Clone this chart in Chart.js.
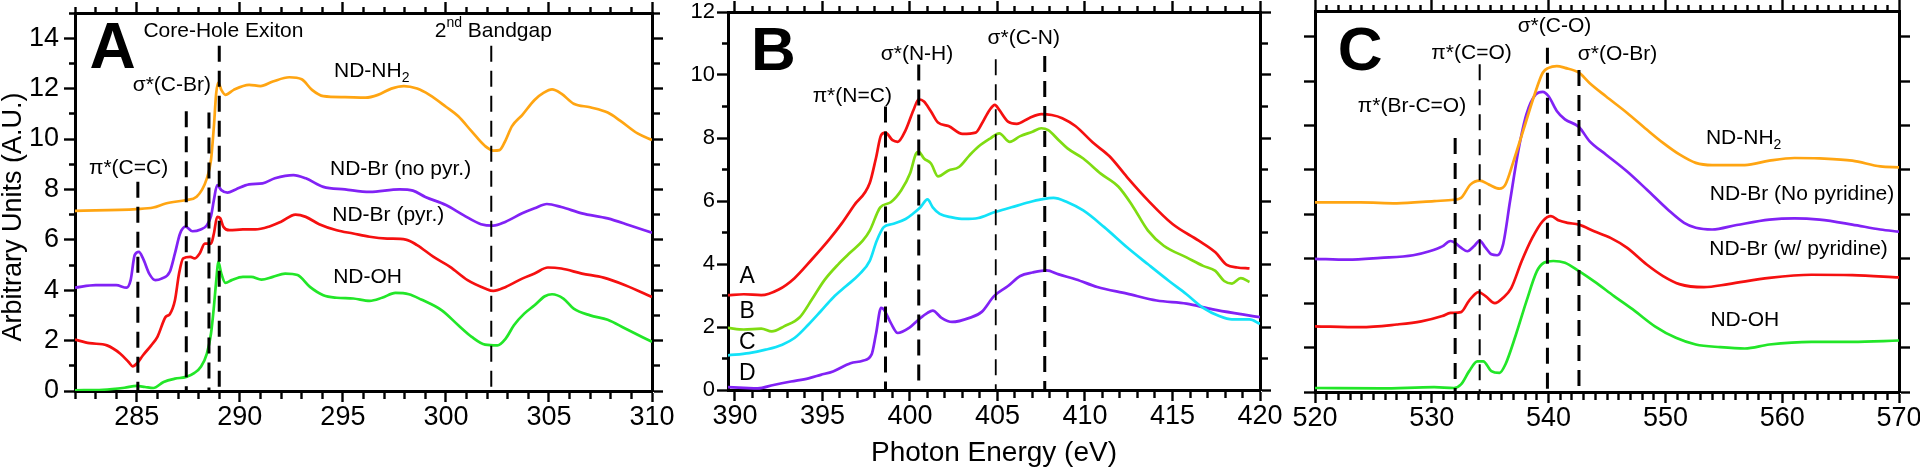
<!DOCTYPE html>
<html lang="en">
<head>
<meta charset="UTF-8">
<title>NEXAFS spectra of functionalised nanodiamond</title>
<script src="https://cdn.jsdelivr.net/npm/chart.js@4.4.1/dist/chart.umd.min.js"></script>
<style>
body { margin: 0; background: #fff; width: 1920px; height: 467px; overflow: hidden; position: relative; }
.panel { position: absolute; top: 0; height: 467px; }
</style>
</head>
<body>
<div class="panel" style="left:0px"><canvas id="chartA" width="692" height="467"></canvas></div>
<div class="panel" style="left:668px"><canvas id="chartB" width="622" height="467"></canvas></div>
<div class="panel" style="left:1275px"><canvas id="chartC" width="645" height="467"></canvas></div>
<script>
const FONT = '"Liberation Sans", Arial, Helvetica, sans-serif';
Chart.defaults.font.family = FONT;
Chart.defaults.color = '#000';

// ---- Panel A: C K-edge ----
const aNH2 = [[282,7.15],[285,7.22],[285.8,7.28],[286.4,7.44],[287.4,7.58],[287.9,7.71],[288.4,8.44],[288.6,9.17],[288.74,10.5],[288.85,11.8],[288.95,12.24],[289.1,11.95],[289.3,11.75],[289.7,11.95],[290.45,12.15],[291,12.1],[291.6,12.28],[292.4,12.45],[293,12.37],[293.5,11.95],[294.05,11.7],[295.1,11.66],[296.1,11.64],[296.7,11.75],[297.35,12],[297.96,12.1],[298.6,12],[299.2,11.75],[300,11.28],[300.6,10.9],[301.25,10.3],[301.9,9.72],[302.3,9.54],[302.6,9.56],[302.9,9.96],[303.2,10.5],[303.7,10.95],[304.3,11.55],[304.75,11.84],[305.15,11.97],[305.6,11.8],[306.2,11.4],[307,11.26],[307.85,11.05],[308.45,10.73],[309.3,10.22],[310,9.96]];
const aBrNoPyr = [[282,4.1],[283,4.2],[284,4.2],[284.5,4.1],[284.7,4.4],[284.9,5.4],[285.1,5.52],[285.3,5.26],[285.6,4.66],[285.9,4.4],[286.2,4.46],[286.6,4.73],[286.85,5.46],[287.1,6.25],[287.37,6.52],[287.7,6.34],[288.1,6.41],[288.4,6.58],[288.6,6.94],[288.74,7.58],[288.9,8.17],[289.1,7.97],[289.4,7.87],[289.8,8],[290.45,8.2],[291.1,8.24],[291.7,8.44],[292.6,8.57],[293.2,8.44],[294.05,8.1],[295.1,8],[296.3,7.9],[297.75,8],[298.4,7.95],[299,7.7],[300,7.38],[300.85,6.98],[301.7,6.62],[302.3,6.56],[302.9,6.72],[303.7,7.05],[304.3,7.25],[304.9,7.42],[305.6,7.3],[306.6,7.05],[307.85,6.85],[308.9,6.58],[310,6.28]];
const aBrPyr = [[282,2.04],[282.7,1.9],[283.55,1.81],[284.2,1.48],[284.6,1.15],[284.8,0.98],[285,1.09],[285.3,1.42],[285.7,1.81],[286,2.15],[286.4,2.94],[286.6,3.05],[286.85,3.6],[287.05,4.66],[287.25,5.26],[287.6,5.32],[287.8,5.26],[288.05,5.46],[288.3,5.85],[288.6,5.85],[288.74,6.25],[288.9,6.91],[289.05,6.85],[289.2,6.52],[289.5,6.38],[290.15,6.41],[290.75,6.41],[291.4,6.52],[292,6.72],[292.7,7],[293.2,6.91],[293.85,6.62],[294.7,6.38],[295.5,6.25],[296.3,6.12],[297.15,6.05],[298.05,6.01],[298.6,5.79],[299.4,5.32],[300.2,4.93],[301.05,4.4],[301.9,4.07],[302.3,3.97],[302.9,4.13],[303.7,4.46],[304.3,4.66],[304.95,4.9],[305.6,4.86],[306.6,4.66],[307.65,4.5],[308.7,4.2],[310,3.73]];
const aOH = [[282,0.03],[283.35,0.05],[284.4,0.13],[285,0.2],[285.4,0.16],[285.8,0.12],[286.3,0.36],[286.85,0.49],[287.4,0.56],[287.8,0.72],[288.1,0.95],[288.4,1.48],[288.6,2.28],[288.74,3.34],[288.87,4.53],[288.95,5.13],[289.1,4.66],[289.3,4.29],[289.6,4.4],[290.15,4.53],[290.55,4.53],[291.05,4.42],[291.6,4.53],[292.2,4.66],[292.8,4.6],[293.4,4.13],[294.05,3.8],[294.7,3.7],[295.5,3.67],[296.3,3.58],[296.9,3.7],[297.55,3.89],[298.2,3.84],[298.8,3.63],[299.8,3.2],[300.6,2.61],[301.25,2.15],[301.9,1.84],[302.5,1.81],[302.9,2.08],[303.3,2.61],[303.8,3.07],[304.3,3.4],[304.8,3.76],[305.15,3.84],[305.7,3.67],[306.2,3.27],[307,3],[307.85,2.83],[308.7,2.48],[310,1.95]];
const aMarks = [{x:285.05,top:8.3,w:3},{x:287.4,top:11.1,w:3},{x:288.5,top:11.05,w:3},{x:289.0,top:13.7,w:3},{x:302.2,top:13.7,w:2}];
const aNotes = [
  {t:'A', x:283.83, y:13.53, size:64, bold:true},
  {t:'Core-Hole Exiton', x:289.2, y:14.26},
  {t:'2^{nd} Bandgap', x:302.3, y:14.26},
  {t:'σ*(C-Br)', x:286.7, y:12.15},
  {t:'π*(C=C)', x:284.6, y:8.83},
  {t:'ND-NH_{2}', x:296.4, y:12.7},
  {t:'ND-Br (no pyr.)', x:297.8, y:8.8},
  {t:'ND-Br (pyr.)', x:297.2, y:6.98},
  {t:'ND-OH', x:296.2, y:4.53}
];

// ---- Panel B: N K-edge ----
const bA = [[389.6,3.01],[390.5,3.04],[391.5,3.01],[392.5,3.19],[393.4,3.55],[394.4,4.15],[395.4,4.79],[396.1,5.29],[396.8,5.86],[397.7,6.57],[398.05,7.35],[398.35,8.09],[398.6,8.17],[399,7.93],[399.3,7.88],[399.75,8.25],[400.2,8.89],[400.5,9.23],[400.8,9.16],[401.2,8.84],[401.6,8.49],[402.2,8.38],[403,8.13],[403.75,8.17],[404.1,8.45],[404.55,8.89],[404.85,9.05],[405.1,8.89],[405.6,8.52],[406.1,8.45],[406.8,8.63],[407.5,8.76],[408.1,8.73],[408.7,8.63],[409.45,8.38],[410.5,7.83],[411.4,7.42],[412.4,6.76],[413.6,6.02],[415,5.27],[416.5,4.74],[417.45,4.37],[418.1,3.97],[418.7,3.89],[419.4,3.86]];
const bB = [[389.6,1.97],[390.5,1.92],[391.5,1.95],[392.1,1.86],[392.8,2.02],[393.7,2.31],[394.4,2.88],[395.1,3.48],[395.9,3.99],[396.6,4.37],[397.3,4.74],[397.7,5.06],[398.3,5.8],[398.9,5.96],[399.5,6.34],[400,6.87],[400.35,7.51],[400.5,7.56],[400.8,7.35],[401.2,7.19],[401.6,6.78],[402.2,6.97],[402.8,7.08],[403.4,7.45],[403.9,7.72],[404.6,7.99],[405.1,8.15],[405.7,7.88],[406.3,8.06],[407,8.2],[407.5,8.31],[407.9,8.25],[408.5,7.93],[409,7.67],[409.9,7.35],[410.9,6.87],[411.9,6.46],[412.7,5.86],[413.6,5.06],[414.5,4.58],[415.8,4.21],[416.75,3.94],[417.45,3.78],[417.95,3.46],[418.4,3.38],[418.9,3.55],[419.4,3.43]];
const bC = [[389.6,1.1],[390.8,1.17],[391.75,1.28],[392.7,1.44],[393.4,1.65],[394.2,2.08],[394.9,2.5],[395.6,2.93],[396.35,3.3],[397.1,3.67],[397.7,4.1],[398.1,4.74],[398.5,5.17],[399,5.27],[399.75,5.43],[400.2,5.61],[400.6,5.8],[401,6.05],[401.3,5.8],[401.7,5.59],[402.4,5.48],[403.1,5.43],[403.9,5.46],[404.8,5.64],[405.8,5.8],[406.8,5.96],[407.5,6.05],[408.2,6.1],[409,5.96],[409.9,5.7],[411.1,5.17],[412.4,4.53],[413.6,3.99],[414.8,3.46],[415.8,3.04],[416.75,2.61],[417.7,2.34],[418.4,2.24],[419.4,2.24],[420,2.1]];
const bD = [[389.6,0.09],[390.5,0.07],[391.3,0.05],[392.2,0.16],[393.2,0.27],[394.2,0.37],[394.9,0.48],[395.6,0.59],[396.6,0.85],[397.3,0.93],[397.8,1.12],[398.05,1.76],[398.35,2.61],[398.5,2.56],[398.9,2.13],[399.3,1.81],[399.95,1.97],[400.5,2.24],[401,2.45],[401.3,2.52],[401.8,2.29],[402.4,2.16],[403.4,2.29],[404.1,2.48],[404.8,2.98],[405.6,3.3],[406.3,3.62],[407,3.73],[407.8,3.8],[408.5,3.67],[409.5,3.51],[410.7,3.27],[412.4,3.06],[414.1,2.84],[415.8,2.74],[417.3,2.56],[419,2.4],[420,2.31]];
const bMarks = [{x:398.6,top:9.0,w:3},{x:400.5,top:10.33,w:3},{x:404.9,top:10.5,w:1.8},{x:407.7,top:10.6,w:3}];
const bNotes = [
  {t:'B', x:392.2, y:10.7, size:62, bold:true},
  {t:'σ*(N-H)', x:400.4, y:10.65},
  {t:'σ*(C-N)', x:406.5, y:11.18},
  {t:'π*(N=C)', x:396.7, y:9.32},
  {t:'A', x:390.7, y:3.59, size:23},
  {t:'B', x:390.7, y:2.5, size:23},
  {t:'C', x:390.7, y:1.49, size:23},
  {t:'D', x:390.7, y:0.53, size:23}
];

// ---- Panel C: O K-edge ----
const cNH2 = [[520,4.27],[523.9,4.27],[527,4.25],[530.2,4.3],[531.9,4.33],[532.5,4.37],[533.3,4.67],[534.1,4.76],[534.9,4.67],[535.8,4.58],[536.3,4.67],[537,5.2],[537.9,5.95],[538.8,6.7],[539.5,7.19],[540,7.3],[540.7,7.34],[541.4,7.3],[542.6,7.19],[543.5,6.96],[544.9,6.66],[546.7,6.29],[548.4,5.91],[549.8,5.61],[551.2,5.35],[552.6,5.16],[554,5.11],[556.8,5.11],[558.9,5.21],[561.05,5.27],[563.2,5.26],[566,5.21],[568.4,5.08],[570,5.06]];
const cBrNoPyr = [[520,3],[522.8,2.98],[525.6,3.02],[528.4,3.08],[529.8,3.17],[530.9,3.28],[531.6,3.4],[532,3.36],[532.5,3.25],[533.05,3.17],[533.6,3.28],[534.1,3.41],[534.6,3.25],[535.1,3.1],[535.6,3.08],[536.1,3.32],[536.7,4.3],[537.4,5.42],[538.1,6.25],[538.9,6.7],[539.5,6.76],[540,6.66],[540.7,6.33],[541.4,6.14],[542.6,5.97],[543.5,5.65],[544.9,5.35],[546.7,4.97],[548.4,4.56],[550.2,4.11],[551.6,3.81],[552.6,3.7],[554,3.66],[556.1,3.76],[558.9,3.88],[561.05,3.91],[563.2,3.88],[566,3.77],[568.4,3.66],[570,3.61]];
const cBrPyr = [[520,1.48],[523.9,1.46],[527,1.52],[529.1,1.59],[530.9,1.71],[531.6,1.78],[532.5,1.8],[533.2,2.06],[534,2.25],[534.6,2.16],[535.4,2],[536.1,2.12],[536.8,2.34],[537.7,2.95],[538.6,3.47],[539.5,3.85],[540.2,3.96],[540.9,3.86],[541.6,3.81],[542.6,3.77],[543.9,3.62],[545.3,3.47],[546.7,3.25],[548.4,2.87],[549.8,2.61],[551.2,2.43],[553.3,2.36],[555.4,2.43],[558.9,2.57],[562.5,2.64],[566,2.63],[570,2.58]];
const cOH = [[520,0.09],[525.6,0.08],[530.2,0.11],[531.9,0.09],[532.5,0.17],[533.2,0.47],[533.9,0.69],[534.4,0.69],[535.1,0.47],[535.8,0.43],[536.3,0.62],[537.2,1.29],[538.1,2.04],[539,2.72],[539.6,2.91],[540.4,2.95],[541.4,2.91],[542.6,2.72],[543.9,2.49],[545.6,2.16],[547.4,1.82],[549.1,1.48],[550.9,1.22],[552.6,1.07],[554.7,1.01],[556.8,0.98],[558.9,1.07],[562.5,1.13],[566,1.13],[570,1.16]];
const cMarks = [{x:532.0,top:5.72,w:3},{x:534.1,top:7.38,w:2},{x:539.9,top:7.75,w:3},{x:542.6,top:7.25,w:3}];
const cNotes = [
  {t:'C', x:523.86, y:7.64, size:62, bold:true},
  {t:'σ*(C-O)', x:540.5, y:8.24},
  {t:'π*(C=O)', x:533.4, y:7.64},
  {t:'σ*(O-Br)', x:545.9, y:7.6},
  {t:'π*(Br-C=O)', x:528.3, y:6.44},
  {t:'ND-NH_{2}', x:556.7, y:5.72},
  {t:'ND-Br (No pyridine)', x:561.7, y:4.46},
  {t:'ND-Br (w/ pyridine)', x:561.4, y:3.21},
  {t:'ND-OH', x:556.8, y:1.61}
];

const ORANGE = '#ffa512', PURPLE = '#8122f5', RED = '#f51010', GREEN = '#22e628', LIME = '#7fdc12', CYAN = '#12e2f8';

// ---- helpers ----
const TL = 11, TL_MINOR = 6;

function makeAxis(pos, min, max, step, majorEvery, size, labels) {
  const isMajor = v => Math.abs(v / majorEvery - Math.round(v / majorEvery)) < 1e-6;
  // left/top tick marks are stroked from the outer end inwards
  const minorDash = (pos === 'left' || pos === 'top') ? [0, TL - TL_MINOR, TL_MINOR, 40] : [TL_MINOR, 40];
  const ax = {
    type: 'linear', position: pos, min: min, max: max,
    afterFit: s => {
      if (pos === 'left' || pos === 'right') s.width = size; else s.height = size;
      s.paddingLeft = s.paddingRight = s.paddingTop = s.paddingBottom = 0;
    },
    border: {display: true, color: '#000', width: 3},
    grid: {
      drawOnChartArea: false, drawTicks: true, tickLength: TL, tickWidth: 2.4, tickColor: '#000',
      tickBorderDash: c => (c.tick && isMajor(c.tick.value)) ? [] : minorDash
    },
    ticks: {stepSize: step, autoSkip: false, maxRotation: 0, minRotation: 0, includeBounds: false, display: false}
  };
  if (labels) {
    ax.ticks.display = true;
    ax.ticks.font = {size: labels.size, lineHeight: 1};
    ax.ticks.padding = labels.padding;
    ax.ticks.color = '#000';
    ax.ticks.callback = v => isMajor(v) ? String(Math.round(v)) : '';
  }
  if (labels && labels.title) {
    ax.title = {display: true, text: labels.title, color: '#000', font: {size: labels.titleSize, lineHeight: 1}, padding: {top: 0, bottom: 0}};
  }
  return ax;
}

function parseRich(t) {
  const parts = [];
  const re = /([_^])\{([^}]*)\}/g;
  let last = 0, m;
  while ((m = re.exec(t))) {
    if (m.index > last) parts.push({t: t.slice(last, m.index)});
    parts.push({t: m[2], s: m[1] === '_' ? 'sub' : 'sup'});
    last = re.lastIndex;
  }
  if (last < t.length) parts.push({t: t.slice(last)});
  return parts;
}

function notesPlugin(items) {
  return {
    id: 'notes',
    afterDraw(chart) {
      const ctx = chart.ctx, xs = chart.scales.x, ys = chart.scales.y;
      ctx.save();
      ctx.fillStyle = '#000';
      ctx.textBaseline = 'middle';
      ctx.textAlign = 'left';
      items.forEach(it => {
        const size = it.size || 21, weight = it.bold ? 'bold ' : '';
        const parts = parseRich(it.t);
        const fontFor = p => weight + (p.s ? Math.round(size * 0.65) : size) + 'px ' + FONT;
        let total = 0;
        parts.forEach(p => { ctx.font = fontFor(p); total += ctx.measureText(p.t).width; });
        let x = xs.getPixelForValue(it.x) - total / 2;
        const y = ys.getPixelForValue(it.y);
        parts.forEach(p => {
          ctx.font = fontFor(p);
          const dy = p.s === 'sub' ? size * 0.32 : (p.s === 'sup' ? -size * 0.42 : 0);
          ctx.fillText(p.t, x, y + dy);
          x += ctx.measureText(p.t).width;
        });
      });
      ctx.restore();
    }
  };
}

function markSets(marks) {
  return marks.map(m => ({
    data: [{x: m.x, y: m.top}, {x: m.x, y: 0}],
    borderColor: '#000', borderWidth: m.w, borderDash: [16, 9], pointRadius: 0, tension: 0
  }));
}

function curve(points, color) {
  return {
    data: points.map(p => ({x: p[0], y: p[1]})),
    borderColor: color, borderWidth: 2.7, pointRadius: 0,
    cubicInterpolationMode: 'monotone', fill: false
  };
}

function makePanel(id, cfg) {
  new Chart(document.getElementById(id), {
    type: 'line',
    data: {datasets: markSets(cfg.marks).concat(cfg.curves)},
    options: {
      responsive: false, animation: false, devicePixelRatio: 1, events: [],
      layout: {padding: 0},
      plugins: {legend: {display: false}, tooltip: {enabled: false}},
      scales: {
        x: makeAxis('bottom', cfg.xMin, cfg.xMax, cfg.xStep, cfg.xMajor, cfg.bottom, cfg.xLabels),
        xTop: makeAxis('top', cfg.xMin, cfg.xMax, cfg.xStep, cfg.xMajor, cfg.top, null),
        y: makeAxis('left', 0, cfg.yMax, 1, cfg.yMajor, cfg.left, cfg.yLabels),
        yRight: makeAxis('right', 0, cfg.yMax, 1, cfg.yMajor, cfg.right, null)
      }
    },
    plugins: [notesPlugin(cfg.notes)]
  });
}

makePanel('chartA', {
  xMin: 282, xMax: 310, xStep: 1, xMajor: 5, yMax: 15, yMajor: 2,
  left: 75, right: 40, top: 13, bottom: 76,
  xLabels: {size: 27, padding: 2},
  yLabels: {size: 27, padding: 5, title: 'Arbitrary Units (A.U.)    ', titleSize: 27},
  marks: aMarks, notes: aNotes,
  curves: [curve(aNH2, ORANGE), curve(aBrNoPyr, PURPLE), curve(aBrPyr, RED), curve(aOH, GREEN)]
});

makePanel('chartB', {
  xMin: 389.6, xMax: 420, xStep: 1, xMajor: 5, yMax: 12, yMajor: 2,
  left: 60, right: 30, top: 12, bottom: 77,
  xLabels: {size: 27, padding: 2, title: 'Photon Energy (eV)', titleSize: 28},
  yLabels: {size: 22, padding: 2},
  marks: bMarks, notes: bNotes,
  curves: [curve(bA, RED), curve(bB, LIME), curve(bC, CYAN), curve(bD, PURPLE)]
});

makePanel('chartC', {
  xMin: 520, xMax: 570, xStep: 1, xMajor: 10, yMax: 8.58, yMajor: 1,
  left: 40, right: 21, top: 11, bottom: 75,
  xLabels: {size: 27, padding: 2},
  yLabels: null,
  marks: cMarks, notes: cNotes,
  curves: [curve(cNH2, ORANGE), curve(cBrNoPyr, PURPLE), curve(cBrPyr, RED), curve(cOH, GREEN)]
});
</script>
</body>
</html>
